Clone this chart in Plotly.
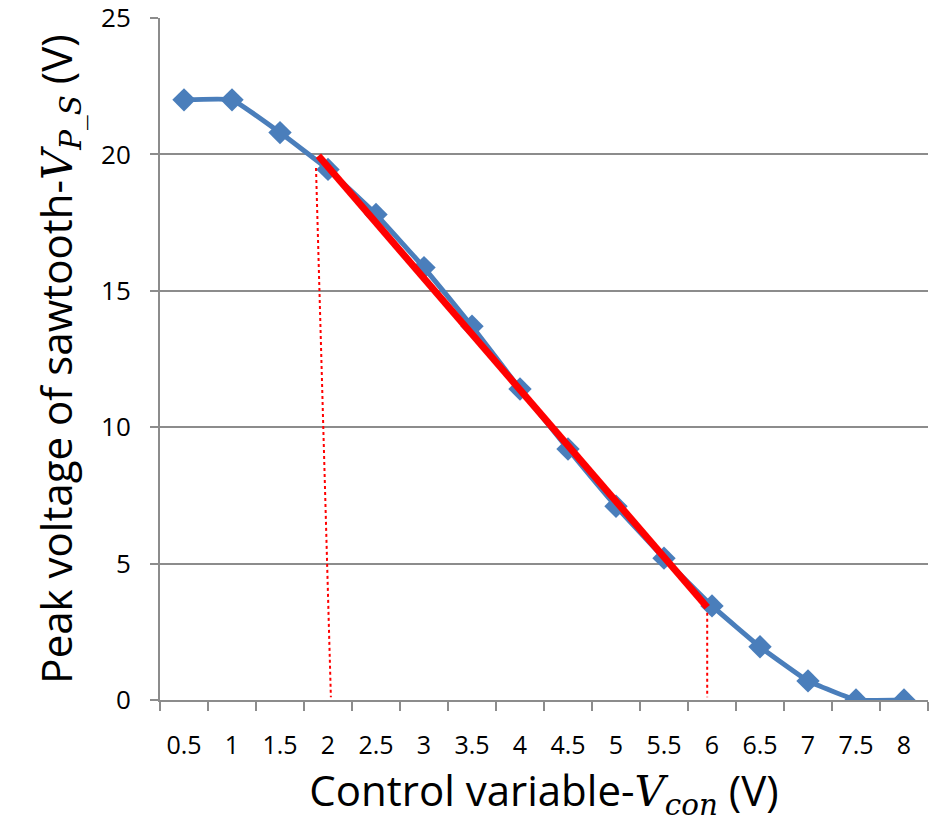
import plotly.graph_objects as go

# Data
x_vals = [0.5, 1, 1.5, 2, 2.5, 3, 3.5, 4, 4.5, 5, 5.5, 6, 6.5, 7, 7.5, 8]
y_vals = [22.0, 22.0, 20.8, 19.45, 17.8, 15.85, 13.7, 11.4, 9.2, 7.1, 5.2, 3.45, 1.95, 0.7, 0.0, 0.0]
tick_labels = ["0.5", "1", "1.5", "2", "2.5", "3", "3.5", "4", "4.5", "5", "5.5", "6", "6.5", "7", "7.5", "8"]
y_ticks = [0, 5, 10, 15, 20, 25]

fit_x = [1.9, 5.95]
fit_y = [19.95, 3.4]
guide1_x = [1.875, 2.03]
guide1_y = [19.5, 0.1]
guide2_x = [5.95, 5.95]
guide2_y = [3.2, 0.1]

blue = "#4a7ebb"
grid = "#8c8c8c"
font_fam = "Open Sans, Noto Sans, sans-serif"

fig = go.Figure()
fig.add_trace(go.Scatter(x=x_vals, y=y_vals, mode="lines+markers",
                         line=dict(color=blue, width=5, shape="spline", smoothing=0.3),
                         marker=dict(symbol="diamond", size=18, color=blue),
                         showlegend=False))
fig.add_trace(go.Scatter(x=fit_x, y=fit_y, mode="lines",
                         line=dict(color="#ff0000", width=7), showlegend=False))
for gx, gy in ((guide1_x, guide1_y), (guide2_x, guide2_y)):
    fig.add_trace(go.Scatter(x=gx, y=gy, mode="lines",
                             line=dict(color="#ff0000", width=2, dash="dot"), showlegend=False))

fig.update_layout(
    width=936, height=830,
    margin=dict(l=160, r=8, t=18, b=130),
    paper_bgcolor="white", plot_bgcolor="white",
    font=dict(family=font_fam, color="black"),
    xaxis=dict(
        range=[0.25, 8.25], tickmode="array", tickvals=x_vals, ticktext=tick_labels,
        ticks="", showgrid=False, zeroline=False, automargin=False,
        showline=True, linecolor=grid, linewidth=2,
        tickfont=dict(size=25), ticklabelstandoff=22, ticklabeloverflow="allow",
        minor=dict(tick0=0.25, dtick=0.5, ticks="outside", ticklen=9, tickwidth=2,
                   tickcolor=grid, showgrid=False),
        title=dict(text="Control variable-<span style='font-family:DejaVu Serif'><i>V</i><sub><i>con</i></sub></span> (V)",
                   font=dict(size=42)),
    ),
    yaxis=dict(
        range=[0, 25], tickmode="array", tickvals=y_ticks,
        ticks="outside", ticklen=8, tickwidth=2, tickcolor=grid,
        showgrid=True, gridcolor=grid, gridwidth=1.5, zeroline=False, automargin=False,
        showline=True, linecolor=grid, linewidth=2,
        tickfont=dict(size=26), ticklabelstandoff=14, ticklabeloverflow="allow",
        title=dict(text="Peak voltage of sawtooth-<span style='font-family:DejaVu Serif'><i>V</i><sub><i>P_S</i></sub></span> (V)",
                   font=dict(size=42)),
    ),
)

fig.write_html("out.html", config={"displayModeBar": False},
               post_script="document.body.style.margin='0';")
